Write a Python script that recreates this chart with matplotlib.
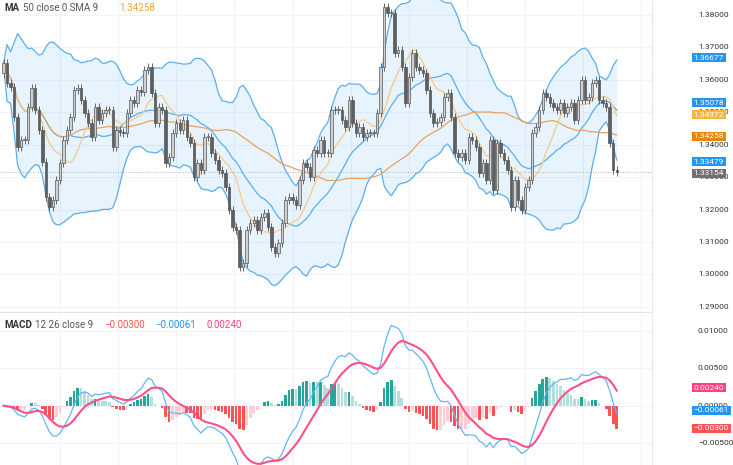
import matplotlib
matplotlib.use('Agg')
import matplotlib.pyplot as plt
import numpy as np
import pandas as pd

matplotlib.rcParams['font.family'] = ['Roboto', 'DejaVu Sans']

# closing prices, left to right
closes = [
    1.3652, 1.3590, 1.3578, 1.3485, 1.3393, 1.3414, 1.3414, 1.3516, 1.3575, 1.3507,
    1.3445, 1.3347, 1.3239, 1.3208, 1.3229, 1.3291, 1.3343, 1.3414, 1.3445, 1.3485,
    1.3569, 1.3575, 1.3538, 1.3498, 1.3467, 1.3424, 1.3516, 1.3476, 1.3498, 1.3507,
    1.3507, 1.3393, 1.3445, 1.3439, 1.3436, 1.3498, 1.3538, 1.3528, 1.3569, 1.3562,
    1.3630, 1.3639, 1.3559, 1.3467, 1.3516, 1.3507, 1.3343, 1.3362, 1.3436, 1.3467,
    1.3445, 1.3476, 1.3424, 1.3405, 1.3300, 1.3343, 1.3322, 1.3424, 1.3424, 1.3374,
    1.3353, 1.3322, 1.3313, 1.3270, 1.3199, 1.3146, 1.3137, 1.3023, 1.3035, 1.3137,
    1.3158, 1.3168, 1.3137, 1.3177, 1.3189, 1.3146, 1.3085, 1.3066, 1.3097, 1.3158,
    1.3229, 1.3239, 1.3229, 1.3214, 1.3291, 1.3343, 1.3331, 1.3300, 1.3384, 1.3374,
    1.3414, 1.3374, 1.3374, 1.3507, 1.3507, 1.3507, 1.3476, 1.3454, 1.3538, 1.3467,
    1.3436, 1.3454, 1.3424, 1.3436, 1.3436, 1.3436, 1.3498, 1.3639, 1.3824, 1.3806,
    1.3806, 1.3683, 1.3692, 1.3639, 1.3528, 1.3609, 1.3683, 1.3639, 1.3630, 1.3621,
    1.3569, 1.3498, 1.3467, 1.3470, 1.3485, 1.3547, 1.3559, 1.3485, 1.3374, 1.3362,
    1.3374, 1.3353, 1.3424, 1.3414, 1.3393, 1.3313, 1.3343, 1.3291, 1.3414, 1.3260,
    1.3405, 1.3374, 1.3353, 1.3322, 1.3208, 1.3291, 1.3229, 1.3199, 1.3270, 1.3291,
    1.3436, 1.3454, 1.3507, 1.3559, 1.3547, 1.3528, 1.3516, 1.3507, 1.3528, 1.3498,
    1.3516, 1.3528, 1.3476, 1.3538, 1.3599, 1.3538, 1.3547, 1.3590, 1.3599, 1.3538,
    1.3528, 1.3516, 1.3405, 1.3322, 1.3315,
]
first_open = 1.3620
WICK = 0.0013

price_tags = [1.36677, 1.35078, 1.34972, 1.34258, 1.33479, 1.33154]
price_tag_colors = ['#2196f3', '#2196f3', '#f6b73c', '#e8860c', '#2196f3', '#707070']
price_tag_nudge = [0, 5, -1, 0, 0, -1]   # points, keeps adjacent tags apart
macd_tags = [0.00240, -0.00061, -0.00300]
macd_tag_colors = ['#ff4081', '#2196f3', '#ff5252']
price_ticks = [1.29, 1.30, 1.31, 1.32, 1.33, 1.34, 1.35, 1.36, 1.37, 1.38]
macd_ticks = [-0.005, 0.0, 0.005, 0.01]

c = pd.Series(closes)
o = pd.Series([first_open] + closes[:-1])
x = np.arange(len(c))

mid = c.rolling(20, min_periods=1).mean()
sd = c.rolling(20, min_periods=1).std().fillna(0)
upper, lower = mid + 2 * sd, mid - 2 * sd
ma50 = c.rolling(50, min_periods=1).mean()
fast = c.rolling(10, min_periods=1).mean()

macd = c.ewm(span=12).mean() - c.ewm(span=26).mean()
signal = macd.ewm(span=9).mean()
hist = macd - signal

fig = plt.figure(figsize=(7.33, 4.65), dpi=100)
ax = fig.add_axes([0, 0.329, 0.8895, 0.671])
ax2 = fig.add_axes([0, 0, 0.8895, 0.323])
xmax = len(c) + 9

GRID = '#f0f3fa'
for a in (ax, ax2):
    a.set_xlim(-1, xmax)
    a.tick_params(axis='both', length=0, labelbottom=False, labelleft=False)
    for s in a.spines.values():
        s.set_visible(False)
    a.spines['right'].set_visible(True)
    a.spines['right'].set_color('#e6e6e6')
    a.set_xticks(np.arange(16, xmax, 16.5))
    a.grid(True, color=GRID, linewidth=0.8)
    a.set_axisbelow(True)
ax.spines['bottom'].set_visible(True)
ax.spines['bottom'].set_color('#e0e3eb')


def right_label(a, v, text, col=None, dy=0):
    kw = dict(xy=(1.0, v), xycoords=('axes fraction', 'data'),
              textcoords='offset points', ha='left', va='center',
              fontsize=6, annotation_clip=False)
    if col is None:
        a.annotate(text, xytext=(33, 0), color='#333333', **kw)
    else:
        a.annotate(text, xytext=(30, dy), color='white',
                   bbox=dict(boxstyle='square,pad=0.2', fc=col, ec='none'), **kw)


# price pane
ax.set_ylim(1.2884, 1.3846)
ax.set_yticks(price_ticks)
for t in price_ticks:
    right_label(ax, t, f'{t:.5f}')
ax.fill_between(x, lower, upper, color='#2196f3', alpha=0.1, linewidth=0)
for s in (upper, mid, lower):
    ax.plot(x, s, color='#5aaef0', linewidth=0.9)
ax.plot(x, ma50, color='#e8a260', linewidth=0.9)
ax.plot(x, fast, color='#f5c98a', linewidth=0.9)

for i in x:
    op, cl = o[i], c[i]
    hi, lo = max(op, cl) + WICK, min(op, cl) - WICK
    up = cl >= op
    ax.vlines(i, lo, hi, color='#666666', linewidth=0.7, zorder=3)
    ax.bar(i, abs(cl - op) or 0.0002, bottom=min(op, cl), width=0.7,
           color='#d0d0d0' if up else '#5f5f5f', edgecolor='#555555',
           linewidth=0.5, zorder=4)
ax.axhline(closes[-1], color='#9a9a9a', linewidth=0.6, linestyle=(0, (1, 2)))

for v, col, dy in zip(price_tags, price_tag_colors, price_tag_nudge):
    right_label(ax, v, f'{v:.5f}', col, dy)

fig.text(0.006, 0.983, 'MA', fontsize=7, fontweight='bold', color='#333333', va='center')
fig.text(0.031, 0.983, '50 close 0 SMA 9', fontsize=7, color='#555555', va='center')
fig.text(0.163, 0.983, '1.34258', fontsize=7, color='#f0a040', va='center')

# MACD pane
ax2.set_ylim(-0.0079, 0.0121)
ax2.set_yticks(macd_ticks)
for t in macd_ticks:
    right_label(ax2, t, f'{t:.5f}'.replace('-', '\u2212'))
hcols = []
for i in x:
    prev = hist[i - 1] if i > 0 else 0
    if hist[i] >= 0:
        hcols.append('#26a69a' if hist[i] >= prev else '#b2dfdb')
    else:
        hcols.append('#ffcdd2' if hist[i] >= prev else '#ff5252')
ax2.bar(x, hist, width=0.75, color=hcols, linewidth=0)
ax2.plot(x, macd, color='#64b5f6', linewidth=0.9)
ax2.plot(x, signal, color='#ff4f8b', linewidth=1.5)
for v, col in zip(macd_tags, macd_tag_colors):
    right_label(ax2, v, f'{v:.5f}'.replace('-', '\u2212'), col)

fig.text(0.006, 0.302, 'MACD', fontsize=7, fontweight='bold', color='#333333', va='center')
fig.text(0.048, 0.302, '12 26 close 9', fontsize=7, color='#555555', va='center')
fig.text(0.142, 0.302, '\u22120.00300', fontsize=7, color='#ff5252', va='center')
fig.text(0.212, 0.302, '\u22120.00061', fontsize=7, color='#2196f3', va='center')
fig.text(0.282, 0.302, '0.00240', fontsize=7, color='#ff4081', va='center')

fig.savefig('out.png', dpi=100)
